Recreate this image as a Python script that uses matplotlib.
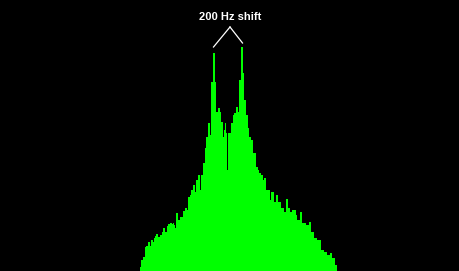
import numpy as np
import matplotlib
matplotlib.use("Agg")
import matplotlib.pyplot as plt

# spectrum level per frequency bin (arbitrary units)
level = [
    4, 11, 11, 14, 14, 24, 25, 25, 29, 29,
    25, 31, 31, 29, 33, 35, 37, 37, 34, 34,
    36, 36, 39, 43, 43, 39, 39, 45, 47, 47,
    48, 48, 47, 48, 46, 43, 58, 58, 51, 51,
    54, 54, 54, 60, 60, 63, 63, 61, 74, 74,
    76, 81, 81, 86, 86, 79, 91, 91, 96, 96,
    81, 96, 96, 108, 108, 123, 134, 134, 148, 148,
    136, 189, 189, 218, 218, 189, 159, 159, 163, 163,
    159, 149, 149, 134, 141, 148, 138, 101, 138, 138,
    138, 148, 148, 156, 158, 158, 164, 164, 159, 191,
    191, 224, 224, 198, 171, 171, 156, 156, 143, 134,
    134, 131, 131, 118, 118, 118, 104, 104, 101, 98,
    98, 96, 96, 91, 93, 93, 81, 81, 81, 81,
    71, 79, 79, 79, 69, 69, 76, 76, 69, 69,
    69, 63, 63, 63, 59, 59, 72, 72, 63, 63,
    59, 59, 61, 61, 61, 61, 56, 51, 51, 51,
    59, 59, 48, 48, 48, 48, 46, 46, 46, 49,
    49, 39, 39, 39, 33, 33, 33, 31, 31, 31,
    31, 21, 21, 21, 19, 19, 19, 16, 16, 16,
    18, 18, 13, 13, 13, 6, 6,
]
label = "200 Hz shift"

bins = np.arange(len(level))
level = np.array(level)

fig = plt.figure(figsize=(4.6, 2.71), dpi=100)
fig.patch.set_facecolor("black")
ax = fig.add_axes([0, 0, 1, 1])
ax.set_facecolor("black")

ax.bar(bins, level, width=1.0, align="edge", color="#00ff00",
       linewidth=0, antialiased=False)

# the two tones
half = len(level) // 2
p1 = int(np.argmax(level[:half]))
p2 = half + int(np.argmax(level[half:]))

apex = (90, 244)
ax.plot([apex[0], p1 + 0.5], [apex[1], level[p1] + 6], color="white", lw=0.9)
ax.plot([apex[0], p2 + 1.5], [apex[1], level[p2] + 4], color="white", lw=0.9)
ax.text(apex[0], apex[1] + 10, label, color="white", fontsize=8,
        fontweight="bold", family=["Liberation Sans", "DejaVu Sans"],
        ha="center", va="center")

ax.set_xlim(-140, 320)
ax.set_ylim(0, 271)
ax.axis("off")

plt.savefig("out.png", dpi=100, facecolor="black")
